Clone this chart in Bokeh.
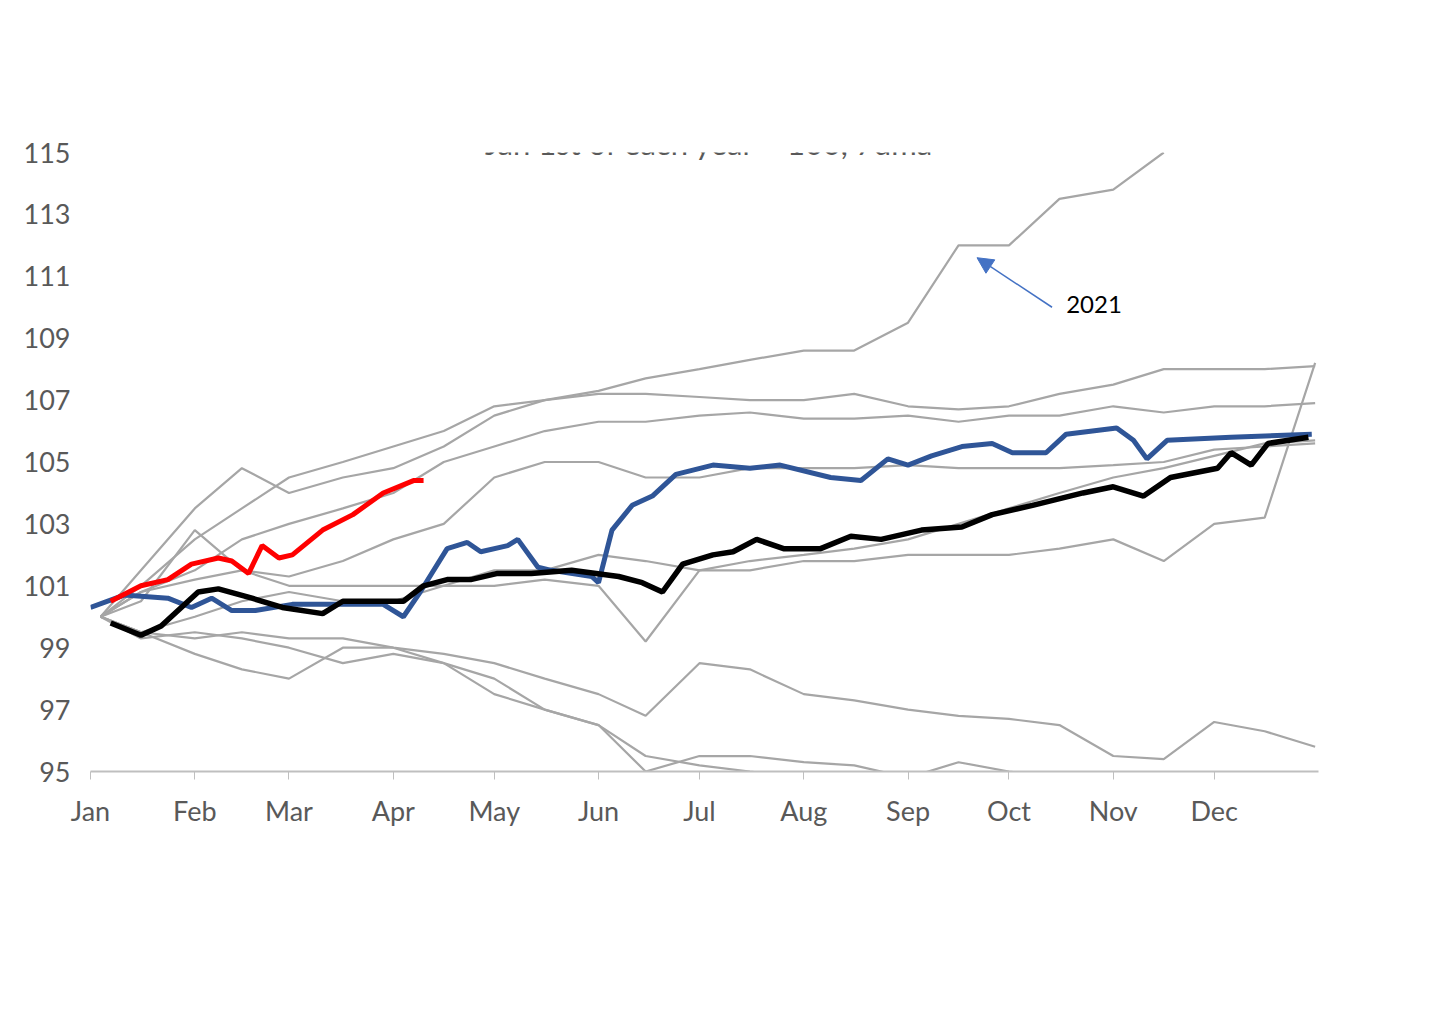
import numpy as np
from bokeh.plotting import figure
from bokeh.models import Legend, LegendItem, Label, Arrow, NormalHead, FixedTicker, Range1d
from bokeh.embed import file_html
from bokeh.resources import INLINE

FONT = "Lato"
month_days = [0, 31, 59, 90, 120, 151, 181, 212, 243, 273, 304, 334]
month_labels = ["Jan", "Feb", "Mar", "Apr", "May", "Jun", "Jul", "Aug", "Sep", "Oct", "Nov", "Dec"]
y_ticks = list(range(95, 116, 2))

grey_days = [3, 15, 31, 45, 59, 75, 90, 105, 120, 135, 151, 165, 181, 196, 212, 227, 243, 258, 273, 288, 304, 319, 334, 349, 364]
nan = float("nan")
g2021 = [100, 101.5, 103.5, 104.8, 104, 104.5, 104.8, 105.5, 106.5, 107, 107.3, 107.7, 108, 108.3, 108.6, 108.6, 109.5, 112, 112, 113.5, 113.8, 115, nan, nan, nan]
g_a = [100, 101, 102.5, 103.5, 104.5, 105, 105.5, 106, 106.8, 107, 107.2, 107.2, 107.1, 107, 107, 107.2, 106.8, 106.7, 106.8, 107.2, 107.5, 108, 108, 108, 108.1]
g_b = [100, 100.8, 101.5, 102.5, 103, 103.5, 104, 105, 105.5, 106, 106.3, 106.3, 106.5, 106.6, 106.4, 106.4, 106.5, 106.3, 106.5, 106.5, 106.8, 106.6, 106.8, 106.8, 106.9]
g_c = [100, 100.5, 102.8, 101.5, 101, 101, 101, 101, 101.5, 101.5, 102, 101.8, 101.5, 101.8, 102, 102.2, 102.5, 103, 103.5, 104, 104.5, 104.8, 105.2, 105.6, 105.7]
g_d = [100, 99.5, 100, 100.5, 100.8, 100.5, 100.5, 101, 101, 101.2, 101, 99.2, 101.5, 101.5, 101.8, 101.8, 102, 102, 102, 102.2, 102.5, 101.8, 103, 103.2, 108.2]
g_e = [100, 99.5, 99.3, 99.5, 99.3, 99.3, 99, 98.8, 98.5, 98, 97.5, 96.8, 98.5, 98.3, 97.5, 97.3, 97, 96.8, 96.7, 96.5, 95.5, 95.4, 96.6, 96.3, 95.8]
g_f = [100, 99.5, 98.8, 98.3, 98, 99, 99, 98.5, 97.5, 97, 96.5, 95.5, 95.2, 95, 94.8, 94.5, 94.3, 94, 94, 93.8, 93.5, 93.3, 93, 93, 93]
g_g = [100, 99.3, 99.5, 99.3, 99, 98.5, 98.8, 98.5, 98, 97, 96.5, 95, 95.5, 95.5, 95.3, 95.2, 94.8, 95.3, 95, 94.8, 94.5, 94.3, 94, 94, 94]
g_h = [100, 100.8, 101.2, 101.5, 101.3, 101.8, 102.5, 103, 104.5, 105, 105, 104.5, 104.5, 104.8, 104.8, 104.8, 104.9, 104.8, 104.8, 104.8, 104.9, 105, 105.4, 105.5, 105.6]
grey_series = [g2021, g_a, g_b, g_c, g_d, g_e, g_f, g_g, g_h]

d2025 = [0, 10, 23, 30, 36, 42, 49, 60, 75, 87, 93, 98, 106, 112, 116, 124, 127, 133, 137, 149, 151, 155, 161, 167, 174, 185, 196, 205, 220, 229, 237, 243, 250, 259, 268, 274, 284, 290, 305, 310, 314, 320, 339, 363]
v2025 = [100.3, 100.7, 100.6, 100.3, 100.6, 100.2, 100.2, 100.4, 100.4, 100.4, 100.0, 100.8, 102.2, 102.4, 102.1, 102.3, 102.5, 101.6, 101.5, 101.3, 101.1, 102.8, 103.6, 103.9, 104.6, 104.9, 104.8, 104.9, 104.5, 104.4, 105.1, 104.9, 105.2, 105.5, 105.6, 105.3, 105.3, 105.9, 106.1, 105.7, 105.1, 105.7, 105.8, 105.9]

d2026 = [6, 15, 23, 30, 38, 42, 47, 51, 56, 60, 69, 78, 87, 96, 99]
v2026 = [100.5, 101.0, 101.2, 101.7, 101.9, 101.8, 101.4, 102.3, 101.9, 102.0, 102.8, 103.3, 104.0, 104.4, 104.4]

dmed = [6, 15, 21, 32, 38, 48, 57, 69, 75, 93, 99, 106, 113, 121, 131, 143, 157, 164, 170, 176, 185, 191, 198, 206, 217, 226, 235, 247, 259, 268, 280, 295, 304, 313, 321, 335, 339, 345, 350, 362]
vmed = [99.8, 99.4, 99.7, 100.8, 100.9, 100.6, 100.3, 100.1, 100.5, 100.5, 101.0, 101.2, 101.2, 101.4, 101.4, 101.5, 101.3, 101.1, 100.8, 101.7, 102.0, 102.1, 102.5, 102.2, 102.2, 102.6, 102.5, 102.8, 102.9, 103.3, 103.6, 104.0, 104.2, 103.9, 104.5, 104.8, 105.3, 104.9, 105.6, 105.8]

p = figure(width=1440, height=1000, output_backend="svg", toolbar_location=None,
           x_range=Range1d(0, 365), y_range=Range1d(95, 115),
           min_border_left=90, min_border_right=122, min_border_top=152, min_border_bottom=229)
p.outline_line_color = None
p.grid.visible = False
p.background_fill_color = "white"

grey_r = None
for s in grey_series:
    grey_r = p.line(grey_days, s, line_color="#a6a6a6", line_width=2.2)
r25 = p.line(d2025, v2025, line_color="#2f5597", line_width=5)
r26 = p.line(d2026, v2026, line_color="#ff0000", line_width=5)
rmed = p.line(dmed, vmed, line_color="#000000", line_width=5.5)

p.xaxis.ticker = FixedTicker(ticks=month_days)
p.xaxis.major_label_overrides = {d: l for d, l in zip(month_days, month_labels)}
p.xaxis.axis_line_color = "#bfbfbf"
p.xaxis.axis_line_width = 2
p.xaxis.major_tick_line_color = "#bfbfbf"
p.xaxis.major_tick_out = 8
p.xaxis.major_tick_in = 0
p.xaxis.minor_tick_line_color = None
p.yaxis.ticker = FixedTicker(ticks=y_ticks)
p.yaxis.axis_line_color = None
p.yaxis.major_tick_line_color = None
p.yaxis.minor_tick_line_color = None
for ax in (p.xaxis, p.yaxis):
    ax.major_label_text_font = FONT
    ax.major_label_text_font_size = "27px"
    ax.major_label_text_color = "#595959"
p.yaxis.major_label_standoff = 14
p.xaxis.major_label_standoff = 14

for txt, yy, sz in [("Tsinghua China iCPI headline index", 118.65, "44px"),
                    ("Daily CPI index based on online prices", 116.8, "31px"),
                    ("Jan 1st of each year = 100, 7dma", 115.3, "31px")]:
    p.add_layout(Label(x=184, y=yy, text=txt, text_font=FONT, text_font_size=sz,
                       text_color="#595959", text_align="center", text_baseline="middle"))

p.add_layout(Arrow(x_start=285.8, y_start=110.0, x_end=263.5, y_end=111.6,
                   line_color="#4472c4", line_width=1.5,
                   end=NormalHead(size=16, fill_color="#4472c4", line_color="#4472c4")))
p.add_layout(Label(x=290, y=110.1, text="2021", text_font=FONT, text_font_size="24px",
                   text_color="black", text_baseline="middle"))

p.add_layout(Label(x=401, y=89.9, text="Source: Exante Data,", text_font=FONT, text_font_size="25px",
                   text_color="black", text_align="right", text_baseline="middle"))
p.add_layout(Label(x=401, y=88.6, text="Tsinghua iCPI", text_font=FONT, text_font_size="25px",
                   text_color="black", text_align="right", text_baseline="middle"))

legend = Legend(items=[LegendItem(label="2016-2024", renderers=[grey_r]),
                       LegendItem(label="2025", renderers=[r25]),
                       LegendItem(label="2026", renderers=[r26]),
                       LegendItem(label="2016-2025 median", renderers=[rmed])],
                ncols=2, location=(160, -200), border_line_color=None,
                background_fill_alpha=0,
                label_text_font=FONT, label_text_font_size="29px", label_text_color="#595959",
                glyph_width=75, glyph_height=30, label_width=340, label_standoff=4,
                spacing=30, margin=0, padding=0, label_height=32)
p.add_layout(legend)

open("out.html", "w").write(file_html(p, INLINE))
